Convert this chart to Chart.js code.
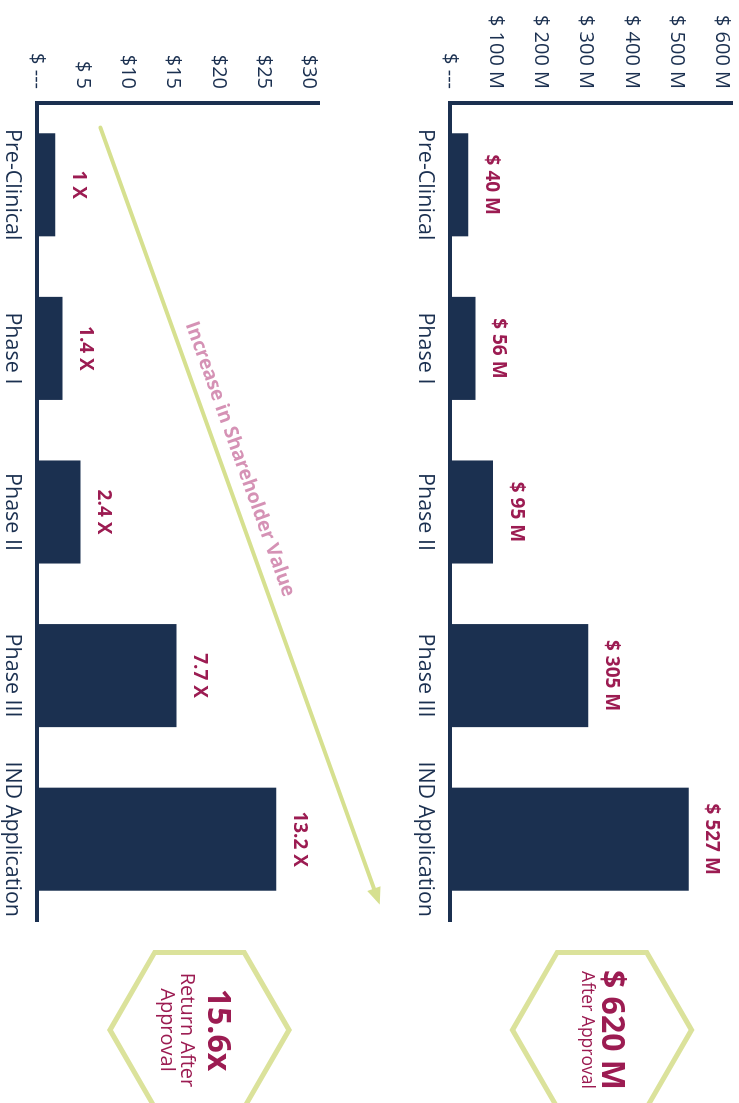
<!DOCTYPE html>
<html>
<head>
<meta charset="utf-8">
<script src="https://cdn.jsdelivr.net/npm/chart.js@4.4.1/dist/chart.umd.min.js"></script>
<style>
  html, body { margin: 0; padding: 0; background: #fff; }
  body { width: 739px; height: 1103px; overflow: hidden; position: relative; }
  /* the whole graphic is laid out flat, then turned a quarter clockwise */
  #page {
    position: absolute; left: 0; top: 0;
    width: 1103px; height: 739px;
    transform-origin: 0 0;
    transform: translate(739px, 0) rotate(90deg);
    font-family: 'Open Sans', sans-serif;
  }
  #valueChart { position: absolute; left: 0; top: 0; }
  #returnChart { position: absolute; left: 0; top: 340px; }
  #badges { position: absolute; left: 0; top: 0; }
  .badge-line {
    position: absolute; width: 200px; text-align: center;
    color: #9c1c52; line-height: 1; white-space: nowrap;
  }
</style>
</head>
<body>
<div id="page">
  <canvas id="valueChart" width="1103" height="340"></canvas>
  <canvas id="returnChart" width="1103" height="399"></canvas>
  <svg id="badges" width="1103" height="739"></svg>
  <div class="badge-line" style="left:930px; top:108.6px; font-size:32px; font-weight:700">$ 620 M</div>
  <div class="badge-line" style="left:930px; top:141.5px; font-size:17.5px">After Approval</div>
  <div class="badge-line" style="left:930px; top:502.6px; font-size:32px; font-weight:700">15.6x</div>
  <div class="badge-line" style="left:930px; top:541px; font-size:20px">Return After<br>Approval</div>
</div>
<script>
// --- data ---
const stages = ['Pre-Clinical', 'Phase I', 'Phase II', 'Phase III', 'IND Application'];

const valuation = [40, 56, 95, 305, 527];
const valuationLabels = ['$ 40 M', '$ 56 M', '$ 95 M', '$ 305 M', '$ 527 M'];
const valuationTicks = ['$ ---', '$ 100 M', '$ 200 M', '$ 300 M', '$ 400 M', '$ 500 M', '$ 600 M'];

const sharePrice = [2, 2.8, 4.8, 15.4, 26.4];
const multipleLabels = ['1 X', '1.4 X', '2.4 X', '7.7 X', '13.2 X'];
const priceTicks = ['$ ---', '$ 5', '$10', '$15', '$20', '$25', '$30'];

// trend arrow, in (category index, share price) units
const trendArrow = [{ x: -0.35, y: 7 }, { x: 4.4, y: 37.8 }];
const trendText = 'Increase in Shareholder Value';

// --- styles ---
const NAVY = '#1b3050';
const CRIMSON = '#9c1c52';
const LIME = '#d6e08f';
const PINK = '#d592b5';
const FONT = "'Open Sans', sans-serif";

// labels above each bar
const barLabels = {
    id: 'barLabels',
    afterDatasetsDraw(chart, args, opts) {
        const ctx = chart.ctx;
        const bars = chart.getDatasetMeta(0).data;
        ctx.save();
        ctx.font = 'bold 19px ' + FONT;
        ctx.fillStyle = CRIMSON;
        ctx.textAlign = 'center';
        ctx.textBaseline = 'middle';
        bars.forEach((bar, i) => {
            ctx.fillText(opts.labels[i], bar.x, bar.y - 23);
        });
        ctx.restore();
    }
};

// the "increase" arrow across the lower chart
const trendPlugin = {
    id: 'trend',
    afterDatasetsDraw(chart) {
        const ctx = chart.ctx;
        const xs = chart.scales.x, ys = chart.scales.y;
        const x0 = xs.getPixelForValue(trendArrow[0].x), y0 = ys.getPixelForValue(trendArrow[0].y);
        const x1 = xs.getPixelForValue(trendArrow[1].x), y1 = ys.getPixelForValue(trendArrow[1].y);
        const len = Math.hypot(x1 - x0, y1 - y0);
        const dx = (x1 - x0) / len, dy = (y1 - y0) / len;
        const head = 17, half = 7;

        ctx.save();
        ctx.strokeStyle = LIME;
        ctx.fillStyle = LIME;
        ctx.lineWidth = 4;
        ctx.lineCap = 'round';
        ctx.beginPath();
        ctx.moveTo(x0, y0);
        ctx.lineTo(x1 - dx * head * 0.8, y1 - dy * head * 0.8);
        ctx.stroke();
        ctx.beginPath();
        ctx.moveTo(x1, y1);
        ctx.lineTo(x1 - dx * head - dy * half, y1 - dy * head + dx * half);
        ctx.lineTo(x1 - dx * head + dy * half, y1 - dy * head - dx * half);
        ctx.closePath();
        ctx.fill();

        // caption sits just above the line
        const t = 0.435;
        const cx = x0 + (x1 - x0) * t + dy * 19;
        const cy = y0 + (y1 - y0) * t - dx * 19;
        ctx.translate(cx, cy);
        ctx.rotate(Math.atan2(dy, dx));
        ctx.font = 'bold 19.5px ' + FONT;
        ctx.fillStyle = PINK;
        ctx.textAlign = 'center';
        ctx.textBaseline = 'middle';
        ctx.fillText(trendText, 0, 0);
        ctx.restore();
    }
};

function makeChart(canvasId, values, maxValue, step, tickLabels, barText, padTop, extraPlugins) {
    const canvas = document.getElementById(canvasId);
    return new Chart(canvas, {
        type: 'bar',
        data: {
            labels: stages,
            datasets: [{
                data: values,
                backgroundColor: NAVY,
                borderWidth: 0,
                categoryPercentage: 1,
                barPercentage: 0.63
            }]
        },
        options: {
            responsive: false,
            animation: false,
            devicePixelRatio: 1,
            layout: { padding: { left: 0, right: 182, top: padTop, bottom: 0 } },
            plugins: {
                legend: { display: false },
                tooltip: { enabled: false },
                barLabels: { labels: barText }
            },
            scales: {
                x: {
                    grid: { display: false, drawTicks: false },
                    border: { display: true, color: NAVY, width: 4 },
                    ticks: { color: NAVY, font: { family: FONT, size: 21.5 }, padding: 12, maxRotation: 0, autoSkip: false },
                    afterFit(scale) {
                        // plot area is 281px tall in both charts
                        scale.height = canvas.height - padTop - 281;
                        scale.paddingLeft = 0;
                        scale.paddingRight = 0;
                    }
                },
                y: {
                    min: 0,
                    max: maxValue,
                    grid: { display: false, drawTicks: false },
                    border: { display: true, color: NAVY, width: 4 },
                    ticks: {
                        stepSize: step,
                        includeBounds: false,
                        color: NAVY,
                        font: { family: FONT, size: 20 },
                        padding: 14,
                        callback: (value, index) => tickLabels[index]
                    },
                    afterFit(scale) {
                        scale.width = 103;
                        scale.paddingTop = 0;
                        scale.paddingBottom = 0;
                    }
                }
            }
        },
        plugins: [barLabels].concat(extraPlugins)
    });
}

makeChart('valueChart', valuation, 620, 100, valuationTicks, valuationLabels, 8, []);
makeChart('returnChart', sharePrice, 31, 5, priceTicks, multipleLabels, 81, [trendPlugin]);

// hexagon outlines behind the badge text
const svg = document.getElementById('badges');
[[1030, 137], [1030, 539.5]].forEach(([cx, cy]) => {
    const r = 89.5;
    const pts = [];
    for (let k = 0; k < 6; k++) {
        const a = (-90 + 60 * k) * Math.PI / 180;
        pts.push((cx + r * Math.cos(a)).toFixed(1) + ',' + (cy + r * Math.sin(a)).toFixed(1));
    }
    const poly = document.createElementNS('http://www.w3.org/2000/svg', 'polygon');
    poly.setAttribute('points', pts.join(' '));
    poly.setAttribute('fill', 'none');
    poly.setAttribute('stroke', '#dbe29b');
    poly.setAttribute('stroke-width', '5');
    svg.appendChild(poly);
});
</script>
</body>
</html>
